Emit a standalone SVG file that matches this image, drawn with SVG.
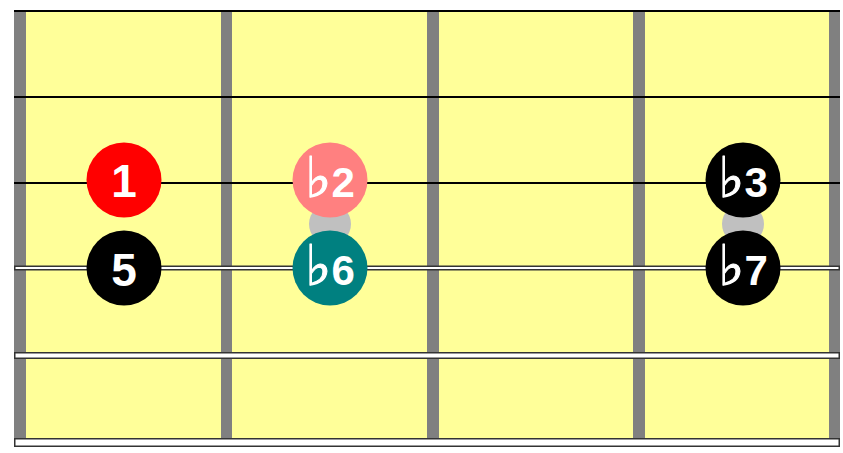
<svg xmlns="http://www.w3.org/2000/svg" width="843" height="453" viewBox="0 0 843 453">
<style>
.fret{fill:#808080}
.thin{stroke:#000;stroke-width:2}
.wound{fill:#fff;stroke:#333;stroke-width:1.5}
.ghost{fill:#c0c0c0}
.lbl{font-family:"Liberation Sans",sans-serif;font-weight:bold;font-size:46px;fill:#fff;text-anchor:middle}
.lbl2{font-family:"Liberation Sans",sans-serif;font-weight:bold;font-size:42px;fill:#fff;text-anchor:middle}
.flat{font-family:"DejaVu Sans",sans-serif;font-weight:bold;font-size:56px;stroke:#fff;stroke-width:1}
</style>
<rect width="843" height="453" fill="#fff"/>
<g id="board">
<rect x="14" y="10" width="826" height="432" fill="#ffff99"/>
<rect class="fret" x="14" y="10" width="12" height="436"/>
<rect class="fret" x="221" y="10" width="11" height="436"/>
<rect class="fret" x="427" y="10" width="12" height="436"/>
<rect class="fret" x="633" y="10" width="12" height="436"/>
<rect class="fret" x="829" y="10" width="11" height="436"/>
</g>
<g id="strings">
<line class="thin" x1="14" y1="11" x2="840" y2="11"/>
<line class="thin" x1="14" y1="97" x2="840" y2="97"/>
<line class="thin" x1="14" y1="183" x2="840" y2="183"/>
<rect class="wound" x="14.75" y="266.25" width="824.5" height="3.5"/>
<rect class="wound" x="14.75" y="352.75" width="824.5" height="5.5"/>
<rect class="wound" x="14.75" y="438.75" width="824.5" height="7.5"/>
</g>
<g id="ghosts">
<circle class="ghost" cx="330" cy="224" r="21"/>
<circle class="ghost" cx="743" cy="224" r="21"/>
</g>
<g id="n1"><circle cx="124" cy="180" r="37.5" fill="#ff0000"/><text class="lbl" x="124" y="197">1</text></g>
<g id="n5"><circle cx="124" cy="268" r="37.5" fill="#000"/><text class="lbl" x="124" y="286">5</text></g>
<g id="nb2"><circle cx="330" cy="180" r="37.5" fill="#ff8080"/><text class="lbl2" x="330" y="197"><tspan class="flat">♭</tspan>2</text></g>
<g id="nb6"><circle cx="330" cy="268" r="37.5" fill="#008080"/><text class="lbl2" x="330" y="285"><tspan class="flat">♭</tspan>6</text></g>
<g id="nb3"><circle cx="743" cy="180" r="37.5" fill="#000"/><text class="lbl2" x="743" y="197"><tspan class="flat">♭</tspan>3</text></g>
<g id="nb7"><circle cx="743" cy="268" r="37.5" fill="#000"/><text class="lbl2" x="743" y="285"><tspan class="flat">♭</tspan>7</text></g>
</svg>
